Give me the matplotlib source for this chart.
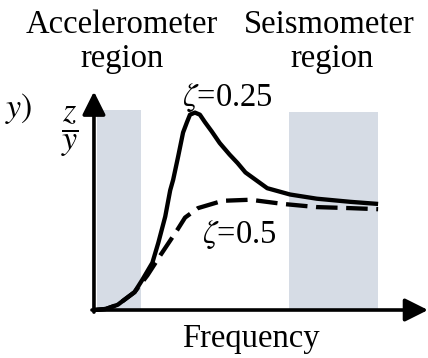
import matplotlib
matplotlib.use("Agg")
import matplotlib.pyplot as plt

plt.rcParams['font.family'] = ['Liberation Serif', 'DejaVu Serif']
plt.rcParams['mathtext.fontset'] = 'stix'

# curves (frequency ratio, amplitude z/y)
freq_025 = [0, 0.12, 0.24, 0.41, 0.49, 0.59, 0.65, 0.72, 0.77, 0.80, 0.85, 0.90,
            0.94, 0.97, 1.02, 1.07, 1.12, 1.19, 1.27, 1.37, 1.45, 1.53, 1.75,
            1.98, 2.25, 2.59, 2.87]
amp_025 = [0, 0.01, 0.05, 0.17, 0.29, 0.45, 0.64, 0.89, 1.14, 1.24, 1.46, 1.69,
           1.79, 1.86, 1.88, 1.86, 1.79, 1.70, 1.59, 1.48, 1.40, 1.31, 1.16,
           1.10, 1.06, 1.03, 1.01]

freq_05 = [0, 0.12, 0.24, 0.41, 0.54, 0.67, 0.84, 0.92, 1.05, 1.30, 1.58, 1.91,
           2.25, 2.59, 2.87]
amp_05 = [0, 0.01, 0.05, 0.17, 0.33, 0.52, 0.76, 0.88, 0.97, 1.04, 1.05, 1.01,
          0.98, 0.97, 0.96]

# shaded regions (start, end, top)
acc_region = (0.03, 0.48, 1.90)
seis_region = (1.97, 2.87, 1.89)

fig = plt.figure(figsize=(4.28, 3.58), dpi=100)
ax = fig.add_axes([0, 0, 1, 1])
ax.set_xlim(-0.949, 3.374)
ax.set_ylim(-0.457, 2.952)
ax.axis("off")

shade = '#d6dce5'
for x0, x1, top in [acc_region, seis_region]:
    ax.fill_between([x0, x1], 0, top, color=shade, lw=0, zorder=1)

ax.plot(freq_025, amp_025, color='black', lw=3.1, solid_joinstyle='round',
        solid_capstyle='butt', zorder=3)
ax.plot(freq_05, amp_05, color='black', lw=3.1, dashes=(5, 2), zorder=3)

# axes with arrows
arrow = dict(arrowstyle='-|>,head_length=0.7,head_width=0.35', lw=2.6,
             color='black', shrinkA=0, shrinkB=0, mutation_scale=20)
ax.annotate('', xy=(3.374, 0), xytext=(-0.02, 0), arrowprops=arrow, zorder=4)
ax.annotate('', xy=(0, 2.08), xytext=(0, -0.02), arrowprops=arrow, zorder=4)

fs = 23.5
ax.text(0.28, 2.638, 'Accelerometer', ha='center', va='baseline', fontsize=fs)
ax.text(0.28, 2.314, 'region', ha='center', va='baseline', fontsize=fs)
ax.text(2.375, 2.638, 'Seismometer', ha='center', va='baseline', fontsize=fs)
ax.text(2.40, 2.314, 'region', ha='center', va='baseline', fontsize=fs)
ax.text(0.89, 1.94, r'$\zeta$=0.25', ha='left', va='baseline', fontsize=fs)
ax.text(1.09, 0.64, r'$\zeta$=0.5', ha='left', va='baseline', fontsize=fs)
ax.text(1.59, -0.35, 'Frequency', ha='center', va='baseline', fontsize=fs)
ax.text(-0.245, 1.70, r'$\dfrac{z}{y}$', ha='center', va='center', fontsize=fs + 1)
ax.text(-0.616, 1.84, r'$y)$', ha='right', va='baseline', fontsize=fs + 1)

plt.savefig("out.png", dpi=100)
